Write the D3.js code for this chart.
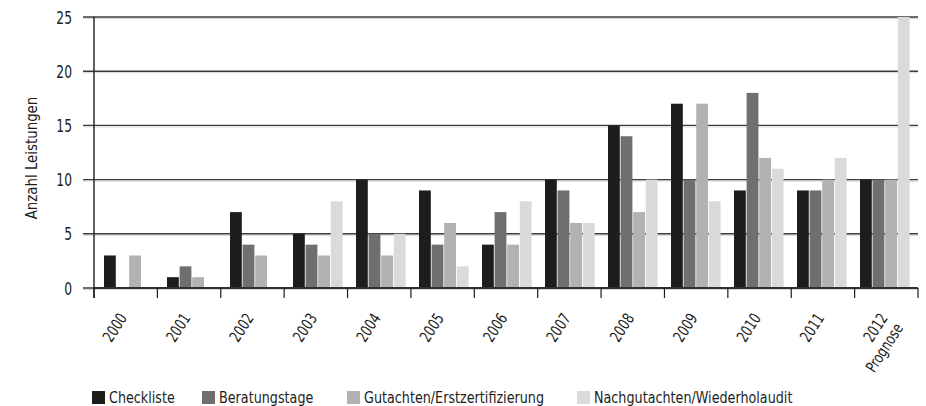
<!DOCTYPE html>
<html><head><meta charset="utf-8">
<script src="https://cdn.jsdelivr.net/npm/d3@7"></script>
<style>body{margin:0;background:#fff}svg{display:block}</style>
</head><body><svg id="c" width="926" height="406"></svg>
<script>
const categories = ["2000","2001","2002","2003","2004","2005","2006","2007","2008","2009","2010","2011","2012\nPrognose"];
const seriesNames = ["Checkliste","Beratungstage","Gutachten/Erstzertifizierung","Nachgutachten/Wiederholaudit"];
const checkliste = [3,1,7,5,10,9,4,10,15,17,9,9,10];
const beratungstage = [0,2,4,4,5,4,7,9,14,10,18,9,10];
const gutachten = [3,1,3,3,3,6,4,6,7,17,12,10,10];
const nachgutachten = [0,0,0,8,5,2,8,6,10,8,11,12,25];
const yTicks = [0,5,10,15,20,25];
const colors = ["#1d1d1b","#706f6f","#b2b2b2","#dadada"];

const values = [checkliste, beratungstage, gutachten, nachgutachten];
const font = "'DejaVu Sans Condensed','DejaVu Sans',sans-serif";
const ink = "#1d1d1b";
const svg = d3.select("#c");
const L = 94, R = 918, T = 17, B = 288;
const x0 = d3.scaleBand().domain(categories).range([L, R]);
const xb = d3.scaleBand().domain(categories).range([L, R - 5]);
const bw = x0.bandwidth();
const x1 = d3.scaleBand().domain(seriesNames).range([10, 59.6]).paddingInner(0.063);
const y = d3.scaleLinear().domain([0,25]).range([B, T]);

function label(x, yy, rot, sx, size, anchor, lines) {
  const t = svg.append("text")
    .attr("transform", `translate(${x},${yy}) rotate(${rot}) scale(${sx},1)`)
    .attr("text-anchor", anchor).attr("font-family", font).attr("font-size", size)
    .attr("fill", ink);
  lines.forEach((ln, k) => {
    t.append("tspan").attr("x", 0).attr("dy", k === 0 ? 0 : "1.15em").text(ln);
  });
  return t;
}

// gridlines
const g = svg.append("g");
g.selectAll(".sh").data(yTicks).join("line")
  .attr("x1", L-11).attr("x2", R).attr("y1", d=>y(d)+1.5).attr("y2", d=>y(d)+1.5)
  .attr("stroke","#d6d6d6").attr("stroke-width",1);
g.selectAll(".gl").data(yTicks).join("line")
  .attr("x1", L-11).attr("x2", R).attr("y1", d=>y(d)).attr("y2", d=>y(d))
  .attr("stroke","#3c3c3b").attr("stroke-width",1.4);

// bars
categories.forEach((c, i) => {
  seriesNames.forEach((s, j) => {
    const v = values[j][i];
    if (v <= 0) return;
    svg.append("rect")
      .attr("x", xb(c) + x1(s))
      .attr("width", x1.bandwidth())
      .attr("y", y(v))
      .attr("height", y(0) - y(v) - 1)
      .attr("fill", colors[j]);
  });
});

// y axis line
svg.append("line").attr("x1",L).attr("x2",L).attr("y1",T).attr("y2",B+10)
  .attr("stroke",ink).attr("stroke-width",1.4);
// bottom axis line and ticks
svg.append("line").attr("x1",L).attr("x2",R).attr("y1",B).attr("y2",B)
  .attr("stroke",ink).attr("stroke-width",1.4);
const tickPos = categories.map(c=>x0(c)).concat([R]);
svg.selectAll(".xt").data(tickPos).join("line")
  .attr("x1",d=>d).attr("x2",d=>d).attr("y1",B).attr("y2",B+10)
  .attr("stroke",ink).attr("stroke-width",1.2);

// y tick labels
yTicks.forEach(d => label(72, y(d)+6.5, 0, 0.78, 17.5, "end", [String(d)]));

// y title
label(37, 158, -90, 0.9, 16.5, "middle", ["Anzahl Leistungen"]);

// x labels
categories.forEach(c => {
  label(x0(c) + bw/2 + 2, B+30, -57, 0.82, 16, "end", c.split("\n"));
});

// legend
const legX = [92, 202, 347, 577];
seriesNames.forEach((s, j) => {
  svg.append("rect").attr("x", legX[j]).attr("y", 391).attr("width", 13).attr("height", 13).attr("fill", colors[j]);
  label(legX[j]+17, 402.5, 0, 0.86, 16.5, "start", [s]);
});
</script></body></html>
